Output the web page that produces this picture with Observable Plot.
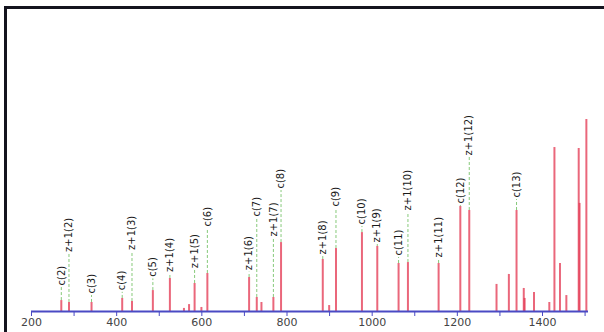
<!DOCTYPE html>
<html><head><meta charset="utf-8">
<script src="https://cdn.jsdelivr.net/npm/d3@7"></script>
<script src="https://cdn.jsdelivr.net/npm/@observablehq/plot@0.6"></script>
<style>
html,body{margin:0;padding:0;background:#fff;overflow:hidden;width:604px;height:332px;}
#frame{position:absolute;left:4px;top:6px;width:700px;height:400px;border-left:3px solid #14141e;border-top:3px solid #14141e;}
#chart{position:absolute;left:0;top:0;}
</style></head><body>
<div id="frame"></div><div id="chart"></div>
<script>
// Peak list (m/z, relative intensity %)
const peakMz  = [270, 288, 341, 413, 436, 485, 525, 558, 570, 583, 599, 613, 711, 729, 740, 768, 786, 884, 899, 915, 976, 1012, 1062, 1084, 1156, 1207, 1228, 1292, 1321, 1339, 1356, 1358, 1380, 1416, 1428, 1441, 1456, 1485, 1487, 1503];
const peakInt = [5.7, 4.7, 4.7, 6.8, 5.2, 10.9, 17.2, 1.6, 3.6, 14.6, 2.1, 19.8, 17.7, 7.3, 4.7, 7.3, 35.9, 27.1, 3.1, 32.8, 41.1, 33.9, 25, 25.5, 25, 54.7, 52.6, 14.1, 19.3, 52.6, 12, 6.8, 9.9, 4.7, 85.4, 25, 8.3, 84.9, 56.3, 100];

// Fragment ion annotations
const ionLabels = ["c(2)","z+1(2)","c(3)","c(4)","z+1(3)","c(5)","z+1(4)","z+1(5)","c(6)","z+1(6)","c(7)","z+1(7)","c(8)","z+1(8)","c(9)","c(10)","z+1(9)","c(11)","z+1(10)","z+1(11)","c(12)","z+1(12)","c(13)"];
const ionMz     = [270, 288, 341, 413, 436, 485, 525, 583, 613, 711, 729, 768, 786, 884, 915, 976, 1012, 1062, 1084, 1156, 1207, 1228, 1339];
const ionLabelAt = [12.5, 30, 8.3, 10, 31, 17, 19.5, 21.5, 43.2, 20.5, 48.4, 38, 63, 28.6, 53.6, 44.3, 34.9, 28.1, 51.6, 27.1, 55.2, 80.2, 58.3];

// Axis ticks
const tickValues = [200, 300, 400, 500, 600, 700, 800, 900, 1000, 1100, 1200, 1300, 1400, 1500];
const tickLabels = ["200", "", "400", "", "600", "", "800", "", "1000", "", "1200", "", "1400", ""];

const peaks = peakMz.map((mz, i) => ({mz, int: peakInt[i]}));
const ions = ionLabels.map((label, i) => ({
  label, mz: ionMz[i], at: ionLabelAt[i],
  int: peakInt[peakMz.indexOf(ionMz[i])]
}));

const chart = Plot.plot({
  width: 604, height: 332,
  marginLeft: 31, marginRight: 16, marginTop: 119, marginBottom: 21,
  x: {domain: [200, 1508]},
  y: {domain: [0, 100], axis: null},
  style: {fontFamily: "DejaVu Sans", background: "transparent", color: "#444"},
  marks: [
    Plot.ruleX(ions, {x: "mz", y1: "int", y2: "at", stroke: "#86c97a", strokeWidth: 1, strokeDasharray: "3,2"}),
    Plot.ruleX(peaks, {x: "mz", y1: 0, y2: "int", stroke: "#e3344f", strokeOpacity: 0.75, strokeWidth: 2}),
    Plot.text(ions, {x: "mz", y: "at", text: "label", rotate: -90, textAnchor: "start", lineAnchor: "middle", fontSize: 10, fill: "#1a1a1a", dy: -2}),
    Plot.ruleY([0], {stroke: "#4a4ac4", strokeWidth: 2}),
    Plot.axisX({ticks: tickValues, tickFormat: (d) => tickLabels[tickValues.indexOf(d)], label: null, tickSize: 5, tickPadding: 2, stroke: "#4a4ac4", fontSize: 11, fill: "#444"})
  ]
});
document.getElementById("chart").appendChild(chart);
</script>
</body></html>
